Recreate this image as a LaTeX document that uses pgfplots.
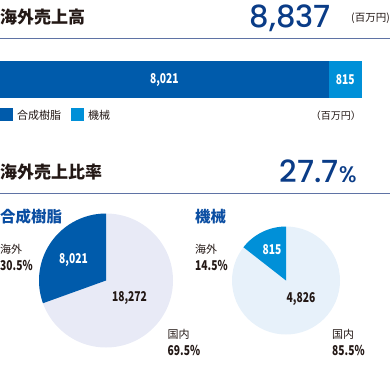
\documentclass[border=0pt]{standalone}
\usepackage{pgfplots}
\pgfplotsset{compat=1.18}
\usepackage{fontspec}
\setmainfont{Noto Sans CJK JP}
\newfontfamily\cond[FakeStretch=0.76]{Noto Sans CJK JP}
\newfontfamily\geo[UprightFont=* Medium]{Poppins}
\definecolor{cA}{HTML}{005BAB}
\definecolor{cB}{HTML}{0090D8}
\definecolor{pieA}{HTML}{E8EAF6}
\definecolor{pieB}{HTML}{E7F1FA}
\definecolor{txt}{HTML}{231815}
\definecolor{tblue}{HTML}{0B4EA2}
\definecolor{bignum}{HTML}{0A3C87}
\definecolor{linec}{HTML}{5F73A5}
\begin{document}
\begin{tikzpicture}
\path[use as bounding box] (0,0) rectangle (390pt,-379pt);
% ---------- header 1
\node[anchor=west,inner sep=0,text=txt,font=\bfseries\fontsize{17}{17}\selectfont] at (0,-17pt) {海外売上高};
\node[anchor=base east,inner sep=0,text=bignum,font=\geo\fontsize{30.5}{30.5}\selectfont] at (331pt,-28pt) {8,837};
\node[anchor=base east,inner sep=0,text=txt,font=\fontsize{10.5}{10.5}\selectfont] at (390pt,-21.5pt) {(百万円)};
\draw[linec,line width=1pt] (0,-39pt) -- (390pt,-39pt);
% ---------- bar
\begin{axis}[at={(0,-98.5pt)},anchor=south west,scale only axis,
  width=362pt,height=37pt,xmin=0,xmax=8836,ymin=0.5,ymax=1.5,
  xbar stacked,bar width=37pt,axis lines=none,clip=false]
\addplot[fill=cA,draw=none] coordinates {(8021,1)};
\addplot[fill=cB,draw=none] coordinates {(815,1)};
\coordinate (lA) at (axis cs:4010.5,1);
\coordinate (lB) at (axis cs:8428.5,1);
\end{axis}
\node[text=white,font=\cond\bfseries\fontsize{13.5}{13.5}\selectfont] at (lA) {8,021};
\node[text=white,font=\cond\bfseries\fontsize{13.5}{13.5}\selectfont] at (lB) {815};
% legend
\fill[cA] (0,-108.5pt) rectangle (13pt,-121pt);
\node[anchor=west,inner sep=0,text=txt,font=\fontsize{11}{11}\selectfont] at (17pt,-115pt) {合成樹脂};
\fill[cB] (70.5pt,-108.5pt) rectangle (83.5pt,-121pt);
\node[anchor=west,inner sep=0,text=txt,font=\fontsize{11}{11}\selectfont] at (88pt,-115pt) {機械};
\node[anchor=east,inner sep=0,text=txt,font=\fontsize{10}{10}\selectfont] at (361pt,-116pt) {（百万円）};
% ---------- header 2
\node[anchor=west,inner sep=0,text=txt,font=\bfseries\fontsize{17}{17}\selectfont] at (0,-172pt) {海外売上比率};
\node[anchor=base east,inner sep=0,text=bignum,font=\geo\fontsize{30.5}{30.5}\selectfont] at (357pt,-182.5pt) {27.7{\fontsize{22.5}{22.5}\selectfont\%}};
\draw[linec,line width=1pt] (0,-193.5pt) -- (390pt,-193.5pt);
% ---------- pie titles
\node[anchor=west,inner sep=0,text=tblue,font=\bfseries\fontsize{15.5}{15.5}\selectfont] at (0,-217pt) {合成樹脂};
\node[anchor=west,inner sep=0,text=tblue,font=\bfseries\fontsize{15.5}{15.5}\selectfont] at (195pt,-217pt) {機械};
% ---------- pie 1 (values in thousands to stay in range)
\pgfmathsetmacro\angA{360*8.021/(8.021+18.272)}
\begin{axis}[at={(106pt,-280.5pt)},anchor=center,scale only axis,width=134pt,height=134pt,
  xmin=-1,xmax=1,ymin=-1,ymax=1,axis lines=none,clip=false]
\fill[pieA] (axis cs:0,0) circle[radius=67pt];
\fill[cA] (axis cs:0,0) -- ++(90:67pt) arc[start angle=90,end angle={90+\angA},radius=67pt] -- cycle;
\end{axis}
\node[text=white,font=\cond\bfseries\fontsize{13.5}{13.5}\selectfont] at (73.5pt,-260pt) {8,021};
\node[text=txt,font=\cond\bfseries\fontsize{13.5}{13.5}\selectfont] at (129.5pt,-298.5pt) {18,272};
\node[anchor=west,inner sep=0,text=txt,font=\fontsize{11}{11}\selectfont] at (0,-249.5pt) {海外};
\node[anchor=west,inner sep=0,text=txt,font=\cond\bfseries\fontsize{13.5}{13.5}\selectfont] at (0,-265pt) {30.5\%};
\node[anchor=west,inner sep=0,text=txt,font=\fontsize{11}{11}\selectfont] at (167.5pt,-334pt) {国内};
\node[anchor=west,inner sep=0,text=txt,font=\cond\bfseries\fontsize{13.5}{13.5}\selectfont] at (167.5pt,-350pt) {69.5\%};
% ---------- pie 2
\pgfmathsetmacro\angB{360*0.815/(0.815+4.826)}
\begin{axis}[at={(286pt,-280.5pt)},anchor=center,scale only axis,width=108pt,height=108pt,
  xmin=-1,xmax=1,ymin=-1,ymax=1,axis lines=none,clip=false]
\fill[pieB] (axis cs:0,0) circle[radius=54pt];
\fill[cB] (axis cs:0,0) -- ++(90:54pt) arc[start angle=90,end angle={90+\angB},radius=54pt] -- cycle;
\end{axis}
\node[text=white,font=\cond\bfseries\fontsize{13.5}{13.5}\selectfont] at (272pt,-250pt) {815};
\node[text=txt,font=\cond\bfseries\fontsize{13.5}{13.5}\selectfont] at (301pt,-299.5pt) {4,826};
\node[anchor=west,inner sep=0,text=txt,font=\fontsize{11}{11}\selectfont] at (195pt,-249.5pt) {海外};
\node[anchor=west,inner sep=0,text=txt,font=\cond\bfseries\fontsize{13.5}{13.5}\selectfont] at (195pt,-265pt) {14.5\%};
\node[anchor=west,inner sep=0,text=txt,font=\fontsize{11}{11}\selectfont] at (332pt,-334pt) {国内};
\node[anchor=west,inner sep=0,text=txt,font=\cond\bfseries\fontsize{13.5}{13.5}\selectfont] at (332pt,-350pt) {85.5\%};
\end{tikzpicture}
\end{document}
